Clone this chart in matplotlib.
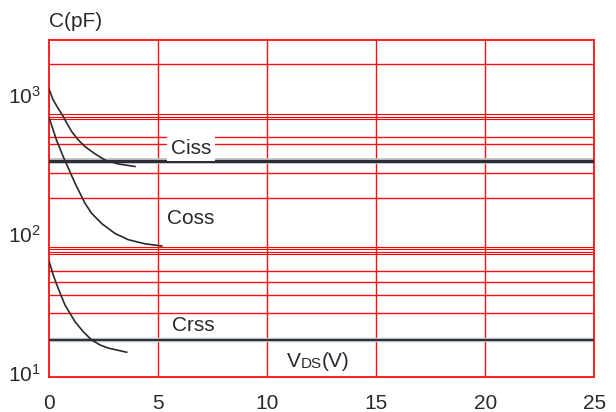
import numpy as np
import matplotlib
matplotlib.use('Agg')
from matplotlib import pyplot as plt

plt.rcParams['font.family'] = ['Liberation Sans', 'DejaVu Sans']
plt.rcParams['mathtext.fontset'] = 'custom'
plt.rcParams['mathtext.rm'] = 'Liberation Sans'
plt.rcParams['mathtext.it'] = 'Liberation Sans'

#%% Capacitance data (pF) vs drain-source voltage (V)
vds_ciss = [0, 0.18, 0.41, 0.64, 0.80, 1.03, 1.33, 1.64, 2.10, 2.56, 3.17, 3.93]
ciss = [1090, 920, 800, 700, 630, 545, 475, 425, 377, 340, 319, 306]

vds_coss = [0, 0.34, 0.64, 1.18, 1.64, 1.94, 2.40, 3.01, 3.62, 4.39, 5.16]
coss = [680, 470, 360, 232, 166, 141, 119, 101, 91, 85, 82]

vds_crss = [0, 0.18, 0.41, 0.72, 1.18, 1.56, 1.94, 2.33, 2.71, 3.55]
crss = [63, 50.7, 40.6, 30.8, 23.4, 19.8, 17.3, 15.9, 15.1, 14.1]

# flat reference levels across the whole sweep
ciss_level = 335
crss_level = 17.2

# horizontal grid levels (pF) and vertical grid (V)
grid_c = [1671, 501, 444, 276, 183, 54.4, 45.2, 36.4, 27.2]
grid_c_tight = [726, 700, 672, 81, 77.6, 74, 72]
grid_v = [5, 10, 15, 20]

x_ticks = [0, 5, 10, 15, 20, 25]
y_ticks = [10, 100, 1000]
y_tick_labels = ['$\\mathregular{10^1}$', '$\\mathregular{10^2}$', '$\\mathregular{10^3}$']

#%% Plot
red = '#ff1010'
ink = '#2a2a2c'

fig = plt.figure(figsize=[6.16, 4.12], dpi=100)
ax = fig.add_axes([0.080, 0.085, 0.885, 0.819])
ax.set_yscale('log')
ax.set_xlim(0, 25)
ax.set_ylim(9.36, 2506)

for c in grid_c:
    ax.axhline(c, color=red, lw=1.0, zorder=1)
for c in grid_c_tight:
    ax.axhline(c, color='#ff0000', lw=0.8, zorder=1)
for v in grid_v:
    ax.axvline(v, color=red, lw=1.0, zorder=1)

for lvl, w in [(ciss_level, 4.0), (crss_level, 3.2)]:
    ax.axhline(lvl, color='#b8bcc0', lw=w, zorder=2)
    ax.axhline(lvl, color='#2b2f35', lw=w - 1.8, zorder=3)

ax.plot(vds_ciss, ciss, color=ink, lw=1.2, zorder=4)
ax.plot(vds_coss, coss, color=ink, lw=1.2, zorder=4)
ax.plot(vds_crss, crss, color=ink, lw=1.2, zorder=4)

for s in ax.spines.values():
    s.set_color(red)
    s.set_linewidth(1.3)

ax.set_xticks(x_ticks)
ax.set_yticks(y_ticks)
ax.set_yticklabels(y_tick_labels)
ax.minorticks_off()
ax.tick_params(axis='both', length=0, labelsize=15, colors=ink)
ax.tick_params(axis='x', pad=12)
ax.tick_params(axis='y', pad=6)

# curve labels
ax.text(6.5, 415, 'Ciss', fontsize=15, color=ink, ha='center', va='center', zorder=5,
        bbox=dict(facecolor='white', edgecolor='none', pad=2.5))
ax.text(6.5, 130, 'Coss', fontsize=15, color=ink, ha='center', va='center', zorder=5)
ax.text(6.6, 22.1, 'Crss', fontsize=15, color=ink, ha='center', va='center', zorder=5)

# V_DS(V) with small-caps subscript
t1 = ax.text(10.9, 11.0, 'V', fontsize=15, color=ink, ha='left', va='baseline', zorder=5)
t2 = ax.annotate('DS', xy=(1, 0), xycoords=t1, fontsize=11, color=ink,
                 ha='left', va='bottom', zorder=5)
ax.annotate('(V)', xy=(1, 0), xycoords=t2, fontsize=15, color=ink,
            ha='left', va='bottom', zorder=5)

fig.text(0.080, 0.948, 'C(pF)', fontsize=15, color=ink, ha='left', va='center')

plt.savefig('out.png', dpi=100)
